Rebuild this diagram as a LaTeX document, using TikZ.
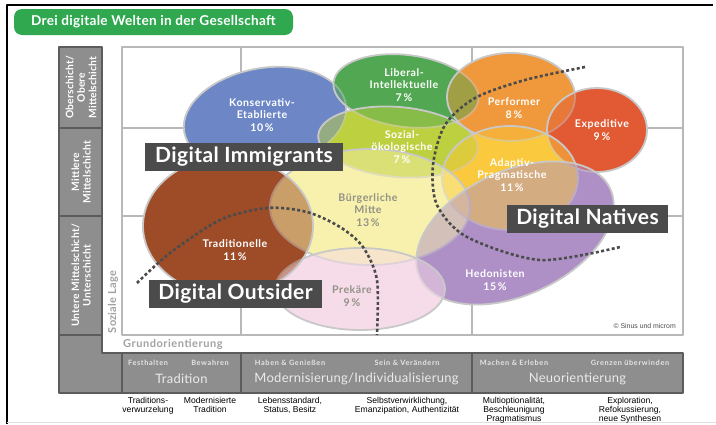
\documentclass[tikz,border=0pt]{standalone}
\usepackage{fontspec}
\setmainfont[LetterSpace=2]{Lato}
\newfontfamily\trackfont[LetterSpace=5]{Lato}
\newfontfamily\widefont[LetterSpace=9]{Lato}
\newfontfamily\descfont{Liberation Sans}
\usetikzlibrary{positioning}

\definecolor{titlegreen}{HTML}{2FA84F}
\definecolor{gridgray}{HTML}{B8B8B8}
\definecolor{colgray}{HTML}{8E8E8E}
\definecolor{coldark}{HTML}{5C5C5C}
\definecolor{rimgray}{HTML}{C8C8C8}
\definecolor{boxgray}{HTML}{4B4B4B}
\definecolor{softtext}{HTML}{A2A2A2}
\definecolor{midtext}{HTML}{929286}
\definecolor{kblue}{HTML}{6D87C6}
\definecolor{lgreen}{HTML}{52A852}
\definecolor{sgreen}{HTML}{BDD03F}
\definecolor{porange}{HTML}{F0983C}
\definecolor{ered}{HTML}{E15A34}
\definecolor{agold}{HTML}{FBC93D}
\definecolor{hpurple}{HTML}{AE90C6}
\definecolor{bpale}{HTML}{F8F1AD}
\definecolor{tbrown}{HTML}{9D4C27}
\definecolor{ppink}{HTML}{F6DBE9}

\begin{document}
\begin{tikzpicture}[x=1pt,y=-1pt,line join=round,
  milieu/.style={fill opacity=.5,draw=rimgray,line width=1.8pt},
  mlabel/.style={text=white,font=\trackfont\fontsize{10.6}{12.5}\selectfont\bfseries,align=center,inner sep=0pt},
  glabel/.style={mlabel,text=midtext},
  worldbox/.style={fill=boxgray,text=white,font=\fontsize{21}{21}\selectfont\bfseries,minimum height=28pt,inner sep=0pt},
  layerbox/.style={rotate=90,text=white,font=\fontsize{10.3}{11.5}\selectfont\bfseries,align=center},
  subhead/.style={text=white!90!black,font=\widefont\fontsize{7.3}{7.3}\selectfont\bfseries,inner sep=0pt},
  mainhead/.style={text=white!92!black,font=\fontsize{13}{13}\selectfont,inner sep=0pt},
  desc/.style={anchor=north,align=center,inner sep=0pt,font=\descfont\fontsize{8.6}{9}\selectfont},
  bound/.style={draw=boxgray,line width=2.6pt,dash pattern=on 3pt off 2.4pt}]
\useasboundingbox (0,0) rectangle (716,424);
\fill[white] (0,0) rectangle (716,424);

% frame
\draw[black,line width=1.6pt] (7,424) -- (7,5) -- (713,5);
\draw[gray!25] (7,422) -- (716,422);

% title
\node[fill=titlegreen,rounded corners=8pt,text=white,minimum width=279pt,minimum height=26pt,
  font=\fontsize{13.6}{13.6}\selectfont\bfseries] (title) at (153.5,22) {Drei digitale Welten in der Gesellschaft};

% grid
\draw[gridgray,line width=1.3pt] (122,47) rectangle (683,335);
\draw[gridgray,line width=1.3pt] (241,47) -- (241,335) (472,47) -- (472,335)
  (122,128) -- (683,128) (122,216) -- (683,216);

% left column and bottom bar
\filldraw[fill=colgray,draw=coldark,line width=1.5pt] (59,47) -- (102,47) -- (102,353) -- (122,353)
  -- (122,393) -- (59,393) -- cycle;
\draw[coldark,line width=1.5pt] (59,128) -- (102,128) (59,216) -- (102,216) (59,335) -- (102,335);
\filldraw[fill=colgray,draw=coldark,line width=1.5pt] (122,353) rectangle (683,393);
\draw[coldark,line width=1.5pt] (241,353) -- (241,393) (472,353) -- (472,393);

\node[layerbox] (upper) at (81,87.5) {Oberschicht/\\Obere\\Mittelschicht};
\node[layerbox] (middle) at (81,172) {Mittlere\\Mittelschicht};
\node[layerbox] (lower) at (81,275.5) {Untere Mittelschicht/\\Unterschicht};

\node[rotate=90,text=softtext,font=\fontsize{11}{11}\selectfont\bfseries] (lage) at (113,302) {Soziale Lage};
\node[anchor=west,text=softtext,font=\trackfont\fontsize{11}{11}\selectfont\bfseries,inner sep=0pt] (grund) at (123,344) {Grundorientierung};

% milieus, opaque
\fill[tbrown] (228,226) ellipse (85 and 69);
\fill[ppink] (360,289) ellipse (85 and 41);
\fill[hpurple,rotate around={25:(515,233)}] (515,233) ellipse (105 and 62);
\fill[bpale] (370,207) ellipse (100 and 58);
\fill[agold] (510,178) ellipse (68 and 52);
\fill[ered] (597,130) ellipse (50 and 42);
\fill[porange] (511,97) ellipse (64 and 44);
\fill[sgreen,rotate around={-5:(398,142)}] (398,142) ellipse (80 and 35);
\fill[lgreen,rotate around={-7:(406,91)}] (406,91) ellipse (73 and 36);
\fill[kblue,rotate around={10:(265,118)}] (265,118) ellipse (82 and 50);

% milieus, blended with rims
\filldraw[milieu,fill=kblue,rotate around={10:(265,118)}] (265,118) ellipse (82 and 50);
\filldraw[milieu,fill=lgreen,rotate around={-7:(406,91)}] (406,91) ellipse (73 and 36);
\filldraw[milieu,fill=sgreen,rotate around={-5:(398,142)}] (398,142) ellipse (80 and 35);
\filldraw[milieu,fill=porange] (511,97) ellipse (64 and 44);
\filldraw[milieu,fill=ered] (597,130) ellipse (50 and 42);
\filldraw[milieu,fill=agold] (510,178) ellipse (68 and 52);
\filldraw[milieu,fill=bpale] (370,207) ellipse (100 and 58);
\filldraw[milieu,fill=hpurple,rotate around={25:(515,233)}] (515,233) ellipse (105 and 62);
\filldraw[milieu,fill=ppink] (360,289) ellipse (85 and 41);
\filldraw[milieu,fill=tbrown] (228,226) ellipse (85 and 69);

% milieu names
\node[mlabel] (konserv) at (262,115) {Konservativ-\\Etablierte\\10\,\%};
\node[mlabel] (liberal) at (404,85) {Liberal-\\Intellektuelle\\7\,\%};
\node[mlabel] (sozial) at (402,147) {Sozial-\\ökologische\\7\,\%};
\node[mlabel] (perform) at (514,108) {Performer\\8\,\%};
\node[mlabel] (expedit) at (602,130) {Expeditive\\9\,\%};
\node[mlabel] (adaptiv) at (512,175) {Adaptiv-\\Pragmatische\\11\,\%};
\node[glabel] (buerger) at (368,210) {Bürgerliche\\Mitte\\13\,\%};
\node[mlabel] (tradit) at (235,250) {Traditionelle\\11\,\%};
\node[glabel] (prekaer) at (352,296) {Prekäre\\9\,\%};
\node[mlabel] (hedon) at (495,280) {Hedonisten\\15\,\%};
\node[anchor=east,inner sep=0pt,text=boxgray,font=\descfont\fontsize{6.9}{6.9}\selectfont] (copy) at (676,326) {© Sinus und microm};

% boundaries of the three worlds
\draw[bound] plot[smooth] coordinates {(585,67) (525,80) (475,98) (445,125) (433,165) (437,205)
  (467,237) (540,260) (620,247)};
\draw[bound] plot[smooth] coordinates {(137,283) (170,253) (220,220) (267,208) (307,212) (340,227)
  (363,247) (377,280) (377,335)};

\node[worldbox,minimum width=198pt] (immig) at (244,157) {Digital Immigrants};
\node[worldbox,minimum width=161pt] (natives) at (587.5,219) {Digital Natives};
\node[worldbox,minimum width=173pt] (outsid) at (235.5,294) {Digital Outsider};

% bottom bar
\node[subhead] (festh) at (148,363) {Festhalten};
\node[subhead] (bewahr) at (210,363) {Bewahren};
\node[subhead] (haben) at (290,363) {Haben \& Genießen};
\node[subhead] (sein) at (407,363) {Sein \& Verändern};
\node[subhead] (machen) at (514,363) {Machen \& Erleben};
\node[subhead] (grenz) at (630,363) {Grenzen überwinden};
\node[mainhead] (tradhead) at (181.5,379) {Tradition};
\node[mainhead] (modhead) at (356.5,379) {Modernisierung/Individualisierung};
\node[mainhead] (neuhead) at (577.5,379) {Neuorientierung};

\node[desc] (d1) at (148,397) {Traditions-\\verwurzelung};
\node[desc] (d2) at (210,397) {Modernisierte\\Tradition};
\node[desc] (d3) at (290,397) {Lebensstandard,\\Status, Besitz};
\node[desc] (d4) at (407,397) {Selbstverwirklichung,\\Emanzipation, Authentizität};
\node[desc] (d5) at (514,397) {Multioptionalität,\\Beschleunigung\\Pragmatismus};
\node[desc] (d6) at (630,397) {Exploration,\\Refokussierung,\\neue Synthesen};
\end{tikzpicture}
\end{document}
